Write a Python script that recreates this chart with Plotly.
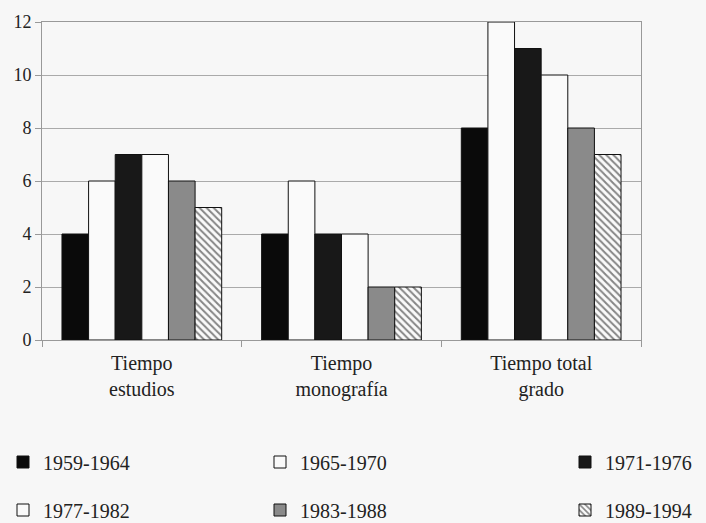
import plotly.graph_objects as go

categories = ["Tiempo<br>estudios", "Tiempo<br>monografía", "Tiempo total<br>grado"]
series_names = ["1959-1964", "1965-1970", "1971-1976", "1977-1982", "1983-1988", "1989-1994"]
v_1959 = [4, 4, 8]
v_1965 = [6, 6, 12]
v_1971 = [7, 4, 11]
v_1977 = [7, 4, 10]
v_1983 = [6, 2, 8]
v_1989 = [5, 2, 7]
values = [v_1959, v_1965, v_1971, v_1977, v_1983, v_1989]
y_ticks = [0, 2, 4, 6, 8, 10, 12]

fills = ["#0a0a0a", "#fafafa", "#181818", "#fafafa", "#8a8a8a", "#fafafa"]
patterns = ["", "", "", "", "", "\\"]
# legend positions (pixel in container)
leg_pos = [(3, 462), (260, 462), (565, 462), (3, 510), (260, 510), (565, 510)]

W, H = 706, 523
FONT = "Liberation Serif"
fig = go.Figure()
for i, (name, vals) in enumerate(zip(series_names, values)):
    lg = "legend" if i == 0 else f"legend{i+1}"
    fig.add_trace(go.Bar(
        x=categories, y=vals, name=name,
        marker=dict(color=fills[i], line=dict(color="#111", width=1),
                    pattern=dict(shape=patterns[i], fgcolor="#111", bgcolor="#fafafa",
                                 size=5, solidity=0.4)),
        legend=lg,
    ))

layout_legends = {}
for i, (px, py) in enumerate(leg_pos):
    key = "legend" if i == 0 else f"legend{i+1}"
    layout_legends[key] = dict(
        x=px / W, y=1 - py / H, xref="container", yref="container",
        xanchor="left", yanchor="middle",
        font=dict(family=FONT, size=20, color="#222"),
        bgcolor="rgba(0,0,0,0)", itemwidth=30,
    )

fig.update_layout(
    width=W, height=H,
    margin=dict(l=42, r=65, t=22, b=183, autoexpand=False),
    paper_bgcolor="#f7f7f7", plot_bgcolor="#f7f7f7",
    barmode="group", bargap=0.2, bargroupgap=0,
    showlegend=True,
    font=dict(family=FONT, color="#222"),
    xaxis=dict(showline=True, linecolor="#999", linewidth=1, mirror=True, tickangle=0,
               ticks="outside", tickson="boundaries", ticklen=6, tickcolor="#999",
               ticklabelstandoff=5,
               tickfont=dict(family=FONT, size=20, color="#222"), showgrid=False),
    yaxis=dict(range=[0, 12], tickvals=y_ticks, showline=True, linecolor="#999", linewidth=1,
               mirror=True, ticks="outside", ticklen=6, tickcolor="#999",
               gridcolor="#aaa", gridwidth=1,
               tickfont=dict(family=FONT, size=18, color="#222"), zeroline=False),
    **layout_legends,
)
fig.write_html("out.html", config={"displayModeBar": False},
               post_script="document.body.style.margin='0';document.body.style.background='#f7f7f7';")
